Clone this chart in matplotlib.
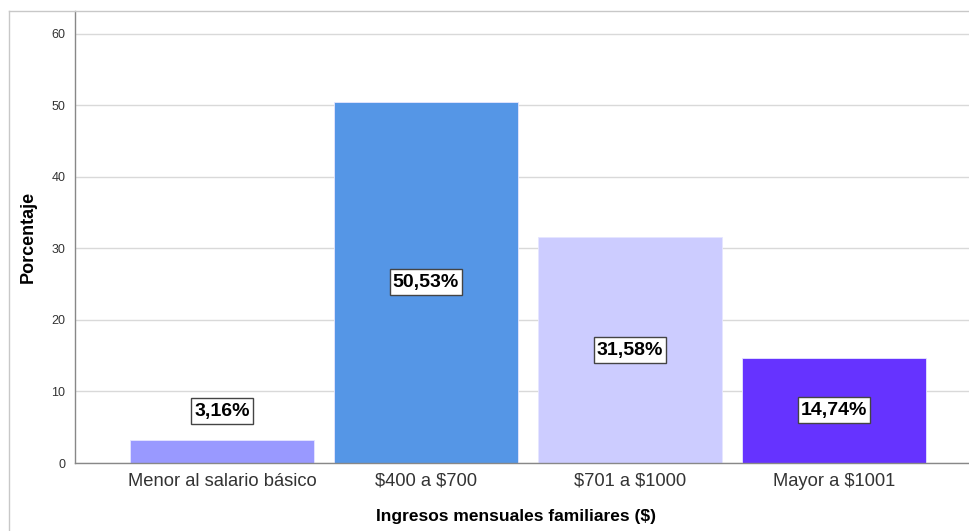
import matplotlib.pyplot as plt
from matplotlib.lines import Line2D
from matplotlib.patches import Rectangle

categorias = ["Menor al salario básico", "$400 a $700", "$701 a $1000", "Mayor a $1001"]
porcentajes = [3.16, 50.53, 31.58, 14.74]
etiquetas = ["3,16%", "50,53%", "31,58%", "14,74%"]
colores = ["#9999ff", "#5596e6", "#ccccff", "#6633ff"]
yticks = [0, 10, 20, 30, 40, 50, 60]

plt.rcParams["font.family"] = ["Liberation Sans", "DejaVu Sans"]
plt.rcParams["text.parse_math"] = False

fig = plt.figure(figsize=(9.7, 5.31), dpi=100)
ax = fig.add_axes([75 / 970, 68 / 531, (970 - 75) / 970, (463 - 11) / 531])

x = list(range(len(categorias)))
ax.bar(x, porcentajes, width=0.9, color=colores, edgecolor="#e6e6ff",
       linewidth=0.6, zorder=2)

ax.set_xlim(-0.72, 3.667)
ax.set_ylim(0, 63.2)
ax.set_yticks(yticks)
ax.set_xticks(x)
ax.set_xticklabels(categorias, fontsize=13.2, color="#333333")
ax.tick_params(axis="y", labelsize=9, length=0, pad=7, colors="#333333")
ax.tick_params(axis="x", length=0, pad=7)
ax.grid(axis="y", color="#d9d9d9", linewidth=1, zorder=0)

for s in ["top", "right"]:
    ax.spines[s].set_visible(False)
for s in ["left", "bottom"]:
    ax.spines[s].set_color("#888888")
    ax.spines[s].set_linewidth(1)

# value labels: inside the bar at mid height, above the bar when it is too short
textos = []
for xi, v, txt in zip(x, porcentajes, etiquetas):
    y = v / 2 if v > 10 else v + 4
    t = ax.text(xi, y, txt, ha="center", va="center", fontsize=14,
                fontweight="bold", color="black", zorder=5)
    textos.append(t)

# boxes behind the labels, a bit taller than the text itself
fig.canvas.draw()
renderer = fig.canvas.get_renderer()
for t in textos:
    bb = t.get_window_extent(renderer)
    fig.add_artist(Rectangle((bb.x0 - 3, bb.y0 - 4), bb.width + 6, bb.height + 9,
                             transform=None, facecolor="white",
                             edgecolor="#444444", linewidth=1, zorder=4))
    t.remove()
    fig.add_artist(t)

ax.set_ylabel("Porcentaje", fontsize=13, fontweight="bold")
ax.yaxis.set_label_coords(-38 / 895, 0.5)
fig.text(516 / 970, 1 - 517 / 531, "Ingresos mensuales familiares ($)",
         ha="center", va="center", fontsize=12.5, fontweight="bold")

# outer chart frame
fig.add_artist(Line2D([9 / 970, 9 / 970], [0, 1 - 11 / 531],
                      transform=fig.transFigure, color="#c8c8c8", linewidth=1))
fig.add_artist(Line2D([9 / 970, 1], [1 - 11 / 531, 1 - 11 / 531],
                      transform=fig.transFigure, color="#c8c8c8", linewidth=1))

fig.savefig("out.png", dpi=100)
